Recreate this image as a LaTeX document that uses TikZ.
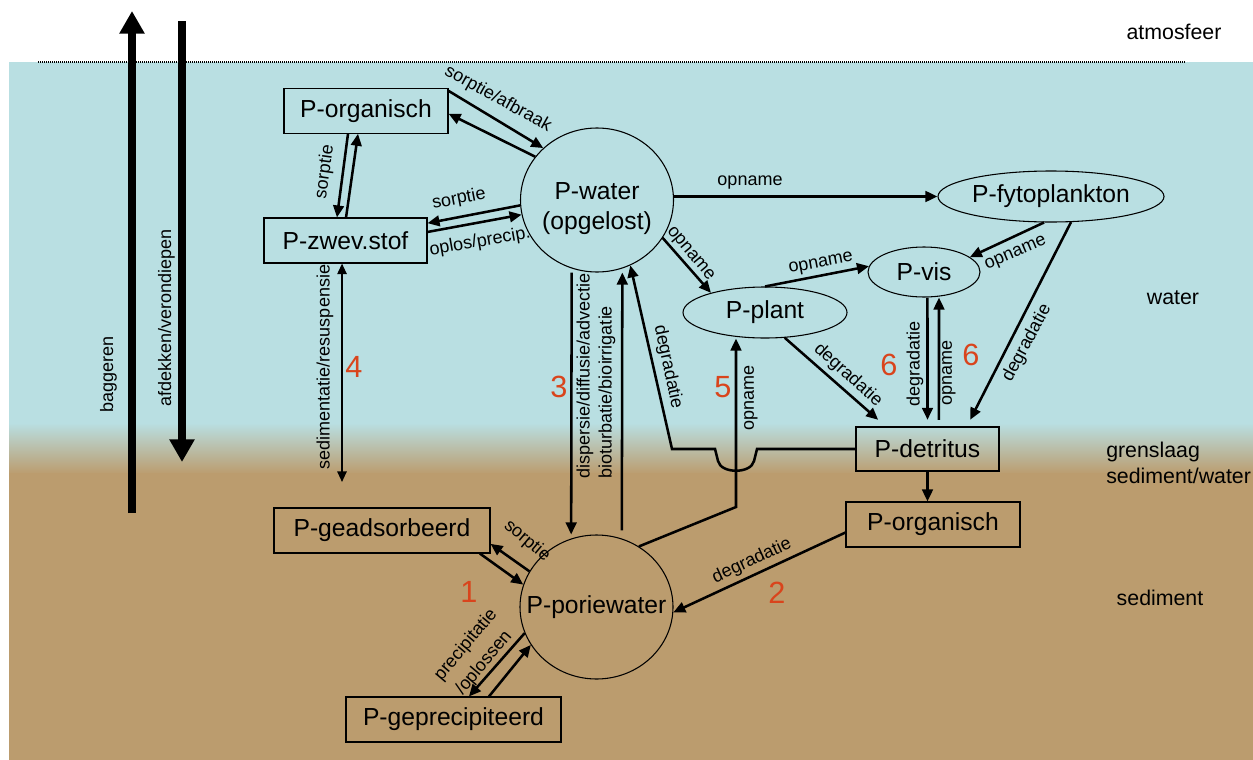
\documentclass[tikz,border=0pt]{standalone}
\usepackage{fontspec}
\setmainfont{Liberation Sans}
\usetikzlibrary{arrows.meta}
\usetikzlibrary{shapes.geometric}
\definecolor{waterblue}{RGB}{185,223,226}
\definecolor{sedimenttan}{RGB}{187,156,110}
\definecolor{numred}{RGB}{217,68,28}

\begin{document}
\begin{tikzpicture}[
    x=0.75pt, y=-0.75pt,
    every node/.style={inner sep=0pt},
    box/.style={draw, line width=0.8pt, font=\fontsize{18.5}{22.5}\selectfont},
    blob/.style={draw, ellipse, line width=0.8pt, font=\fontsize{18.5}{22.5}\selectfont},
    flow/.style={line width=1.9pt, -{Triangle[length=9pt,width=8pt]}},
    twoway/.style={line width=1.4pt, {Triangle[length=8pt,width=7pt]}-{Triangle[length=8pt,width=7pt]}},
    bigarrow/.style={line width=6pt, -{Triangle[length=17pt,width=18pt]}},
    lbl/.style={font=\fontsize{13.5}{15}\selectfont},
    num/.style={font=\fontsize{23}{25}\selectfont, text=numred},
    zone/.style={font=\fontsize{16}{18}\selectfont}
]
    \useasboundingbox (0,0) rectangle (1253,760);

    % layers: water, boundary layer, sediment
    \fill[waterblue] (9,62) rectangle (1253,424);
    \shade[top color=waterblue, bottom color=sedimenttan] (9,423) rectangle (1253,474);
    \fill[sedimenttan] (9,473) rectangle (1253,760);
    \draw[line width=1.3pt, dash pattern=on 0.75pt off 0.75pt] (38,62) -- (1186,62);

    \node[zone] (zatmo) at (1174,32) {atmosfeer};
    \node[zone] (zwater) at (1173,298) {water};
    \node[zone, anchor=west] (zgrens) at (1106,452) {grenslaag};
    \node[zone, anchor=west] (zsedwat) at (1106,476) {sediment/water};
    \node[zone] (zsed) at (1160,598) {sediment};

    % pools
    \node[box, minimum width=123pt, minimum height=33.4pt] (porgw) at (366,111) {P-organisch};
    \node[box, minimum width=122.25pt, minimum height=33.75pt] (pzwev) at (345.5,240.5) {P-zwev.stof};
    \node[blob, minimum width=114.75pt, minimum height=108pt] (pwater) at (597,200)
        {\makebox[0pt]{\raisebox{-11pt}[0pt][0pt]{\begin{tabular}{@{}c@{}}P-water\\(opgelost)\end{tabular}}}};
    \node[blob, minimum width=169.5pt, minimum height=38.25pt] (pfyto) at (1051,196.5) {\makebox[0pt]{P-fytoplankton}};
    \node[blob, minimum width=84pt, minimum height=37.5pt] (pvis) at (924,272) {P-vis};
    \node[blob, minimum width=123pt, minimum height=38.25pt] (pplant) at (765,312.5) {P-plant};
    \node[box, minimum width=107.25pt, minimum height=33pt] (pdet) at (927.5,449) {P-detritus};
    \node[box, minimum width=130.5pt, minimum height=33.75pt] (porgs) at (933,524.5) {P-organisch};
    \node[box, minimum width=162pt, minimum height=33.75pt] (pgeads) at (382,530.5) {P-geadsorbeerd};
    \node[blob, minimum width=114.75pt, minimum height=108pt] (ppor) at (596.5,607) {\makebox[0pt]{P-poriewater}};
    \node[box, minimum width=161.25pt, minimum height=33.75pt] (pgeprec) at (453.5,719.5) {P-geprecipiteerd};

    % dredging and capping
    \coordinate (dredgelow) at (132,513);
    \coordinate (dredgehigh) at (132,11);
    \coordinate (coverhigh) at (182,21);
    \coordinate (coverlow) at (182,462);
    \draw[bigarrow] (dredgelow) -- (dredgehigh);
    \draw[bigarrow] (coverhigh) -- (coverlow);
    \node[lbl, rotate=90] (lbagger) at (108.5,374.5) {baggeren};
    \node[lbl, rotate=90] (lcover) at (166.5,318) {afdekken/verondiepen};

    % fluxes in the water column
    \draw[flow] ([yshift=-2pt]porgw.north east) -- (pwater.136);
    \draw[flow] (pwater.145) -- ([yshift=-2pt]porgw.east);
    \node[lbl, rotate=-29] (lsorpafb) at (498,99) {sorptie/afbraak};

    \draw[flow] ([xshift=-13.5pt]porgw.south) -- ([xshift=-6.4pt]pzwev.north);
    \draw[flow] ([xshift=0.4pt]pzwev.north) -- ([xshift=-6pt]porgw.south);
    \node[lbl, rotate=82] (lsorpa) at (325,172) {sorptie};

    \draw[flow] (pwater.184) -- ([yshift=13pt]pzwev.east);
    \draw[flow] ([yshift=6.4pt]pzwev.east) -- (pwater.191);
    \node[lbl, rotate=11] (lsorpb) at (459,199) {sorptie};
    \node[lbl, rotate=10] (loplos) at (480,242) {oplos/precip.};

    \draw[flow] (pwater.east |- pfyto.west) -- (pfyto.west);
    \node[lbl] (lopnfyto) at (750,183) {opname};

    \draw[flow] (pwater.-30) -- (pplant.160);
    \node[lbl, rotate=-50] (lopnplant) at (690,254) {opname};

    \draw[flow] (pplant.north) -- (pvis.174);
    \node[lbl, rotate=10.5] (lopnvisa) at (821,264) {opname};

    \draw[flow] (pfyto.-105) -- (pvis.18);
    \node[lbl, rotate=23] (lopnvisb) at (1016,254) {opname};

    \draw[flow] (pfyto.-52) -- ([xshift=32pt,yshift=5pt]pdet.north);
    \node[lbl, rotate=62] (ldegfyto) at (1027,343) {degradatie};

    \draw[flow] ([xshift=2.6pt]pvis.south) -- ([yshift=5pt]pdet.north);
    \draw[flow] ([xshift=8.6pt,yshift=5pt]pdet.north) -- ([xshift=11.25pt]pvis.south);
    \node[lbl, rotate=90] (ldegvis) at (915,364) {degradatie};
    \node[lbl, rotate=90] (lopndet) at (949,373) {opname};
    \node[num] (nsixa) at (889,365) {6};
    \node[num] (nsixb) at (971,355) {6};

    \draw[flow] (pplant.-52) -- ([xshift=-37pt,yshift=5pt]pdet.north);
    \node[lbl, rotate=-42] (ldegplant) at (848,375) {degradatie};

    % detritus back to water, hopping over the uptake line
    \draw[flow] (pdet.west) -- (757,449) -- (754,461)
        .. controls (751,474) and (721,474) .. (718,461) -- (715,449) -- (672,449) -- (pwater.-63);
    \node[lbl, rotate=-78] (ldegdet) at (668,367) {degradatie};

    % exchange with the sediment
    \coordinate (bend5) at (736,507);
    \draw[flow] (ppor.55) -- (bend5) -- (bend5 |- pplant.south);
    \node[lbl, rotate=90] (lopnpor) at (751,398) {opname};
    \node[num] (nfive) at (723,387) {5};

    \draw[flow] ([xshift=-19pt]pwater.south) -- ([xshift=-19pt]ppor.north);
    \draw[flow] ([xshift=19pt,yshift=3pt]ppor.north) -- ([xshift=19pt]pwater.south);
    \node[lbl, rotate=90] (ldisp) at (585,376) {dispersie/diffusie/advectie};
    \node[lbl, rotate=90] (lbiot) at (607,392) {bioturbatie/bioirrigatie};
    \node[num] (nthree) at (559,387) {3};

    \coordinate (sedbed) at (342,482);
    \draw[twoway] ([xshift=-2.6pt]pzwev.south) -- (sedbed);
    \node[lbl, rotate=90] (lsedim) at (325,367) {sedimentatie/resuspensie};
    \node[num] (nfour) at (354,367) {4};

    % pore water
    \draw[flow] ([xshift=-8pt]pgeads.south east) -- (ppor.163);
    \draw[flow] (ppor.152) -- ([yshift=-10pt]pgeads.east);
    \node[lbl, rotate=-40] (lsorpc) at (527,541) {sorptie};
    \node[num] (none) at (469,592) {1};

    \draw[flow] (ppor.200) -- ([xshift=11.6pt]pgeprec.north);
    \draw[flow] ([xshift=26.6pt]pgeprec.north) -- (ppor.210);
    \node[lbl, rotate=50] (lprecip) at (466,645) {precipitatie};
    \node[lbl, rotate=50] (loploss) at (484,663) {/oplossen};

    \draw[flow] ([yshift=-6pt]porgs.west) -- (ppor.-4);
    \node[lbl, rotate=25] (ldegorg) at (752,561) {degradatie};
    \node[num] (ntwo) at (777,593) {2};

    \draw[flow] (pdet.south) -- (pdet.south |- porgs.north);

\end{tikzpicture}
\end{document}
